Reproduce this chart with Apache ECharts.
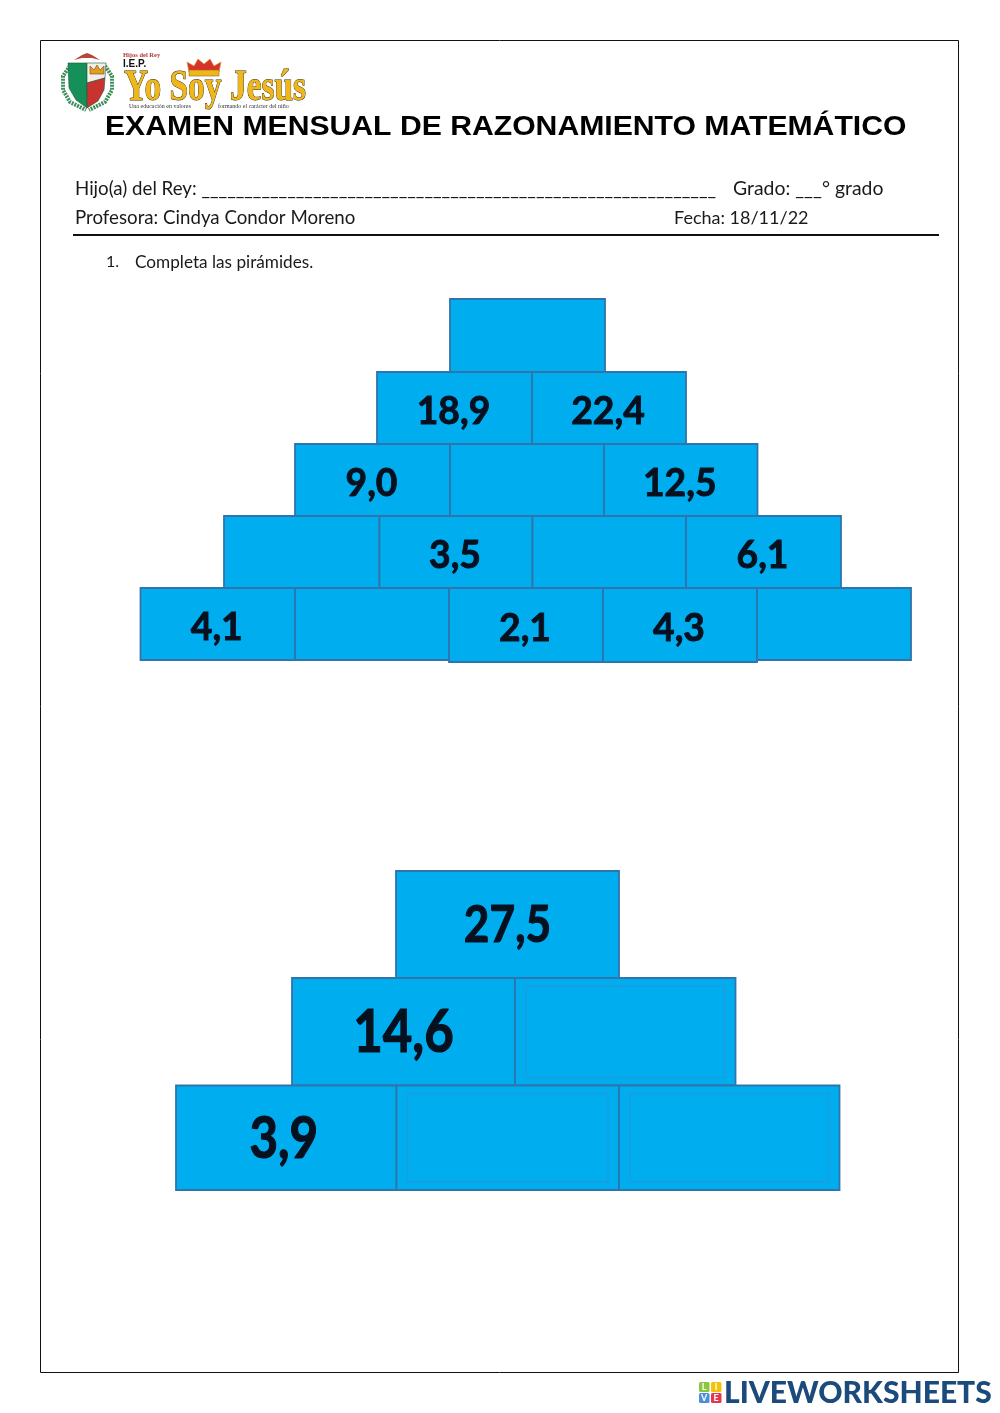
<!DOCTYPE html>
<html>
<head>
<meta charset="utf-8">
<title>Examen mensual</title>
<style>
html, body { margin: 0; padding: 0; background: #fff; }
#main { width: 1000px; height: 1413px; }
</style>
<script src="https://cdn.jsdelivr.net/npm/echarts@6/dist/echarts.min.js"></script>
</head>
<body>
<div id="main"></div>
<script>
// first pyramid, cells listed from the top row down
const pyramidOneLabels = ['', '18,9', '22,4', '9,0', '', '12,5', '', '3,5', '', '6,1', '4,1', '', '2,1', '4,3', ''];
const pyramidOneLeft = [450, 377, 532, 295, 450, 604, 224, 379.5, 532.5, 686, 140.5, 295, 449, 603, 757];
const pyramidOneRight = [605, 532, 686, 450, 604, 757.5, 379.5, 532.5, 686, 841, 295, 449, 603, 757, 911];
const pyramidOneTop = [299, 372, 372, 444, 444, 444, 516, 516, 516, 516, 588, 588, 588, 588, 588];
const pyramidOneBottom = [372, 444, 444, 516, 516, 516, 588, 588, 588, 588, 660, 660, 662, 662, 660];

// second pyramid
const pyramidTwoLabels = ['27,5', '14,6', '', '3,9', '', ''];
const pyramidTwoLeft = [396, 292, 515, 176, 396.5, 619];
const pyramidTwoRight = [619, 515, 735.5, 396.5, 619, 839.5];
const pyramidTwoTop = [871, 978, 978, 1085.5, 1085.5, 1085.5];
const pyramidTwoBottom = [978, 1085.5, 1085.5, 1190, 1190, 1190];

const CELL_FILL = '#00aeef';
const CELL_EDGE = '#2f74ad';
const BODY_FONT = 'Lato, "Open Sans", sans-serif';

function zipCells(labels, left, right, top, bottom) {
    return labels.map((label, i) => [left[i], right[i], top[i], bottom[i], label]);
}

function cellRenderer(labels, labelStyle, innerFrame) {
    return function (params, api) {
        let p0 = api.coord([api.value(0), api.value(2)]);
        let p1 = api.coord([api.value(1), api.value(3)]);
        let w = p1[0] - p0[0];
        let h = p1[1] - p0[1];
        let label = labels[params.dataIndex];
        let children = [{
            type: 'rect',
            shape: {x: p0[0], y: p0[1], width: w, height: h},
            style: {fill: CELL_FILL, stroke: CELL_EDGE, lineWidth: 1.8}
        }];
        if (label) {
            let s = labelStyle(label);
            children.push({
                type: 'text',
                x: p0[0] + w / 2 + s.dx,
                y: p0[1] + h / 2 + s.dy,
                scaleX: s.scaleX,
                style: {
                    text: label,
                    x: 0,
                    y: 0,
                    fill: '#07101f',
                    stroke: '#07101f',
                    lineWidth: s.weight,
                    font: 'bold ' + s.size + 'px ' + BODY_FONT,
                    textAlign: 'center',
                    textVerticalAlign: 'middle'
                }
            });
        } else if (innerFrame) {
            // faint inner frame left by the answer boxes
            children.push({
                type: 'rect',
                shape: {x: p0[0] + 11, y: p0[1] + 8, width: w - 22, height: h - 16},
                style: {fill: 'none', stroke: '#1f9ade', lineWidth: 1.3}
            });
        }
        return {type: 'group', children: children};
    };
}

function line(text, x, y, size, extra) {
    return {
        type: 'text',
        silent: true,
        z: 20,
        style: Object.assign({
            text: text,
            x: x,
            y: y,
            fill: '#1a1a1a',
            font: size + 'px ' + BODY_FONT,
            textVerticalAlign: 'middle'
        }, extra || {})
    };
}

function poly(points, fill, stroke) {
    return {
        type: 'polygon',
        silent: true,
        z: 15,
        shape: {points: points},
        style: {fill: fill, stroke: stroke || null, lineWidth: 0.6}
    };
}

// school logo, left of the heading
function logoElements() {
    let out = [
        // laurel
        {type: 'polyline', silent: true, z: 14, shape: {points: [[70, 66], [63, 76], [63, 90], [70, 102], [86, 110]]},
            style: {fill: 'none', stroke: '#3f8f5b', lineWidth: 4, lineDash: [2, 1]}},
        {type: 'polyline', silent: true, z: 14, shape: {points: [[105, 66], [112, 76], [112, 90], [105, 102], [89, 110]]},
            style: {fill: 'none', stroke: '#3f8f5b', lineWidth: 4, lineDash: [2, 1]}},
        poly([[74, 60], [82, 55], [87, 53], [92, 55], [100, 60], [92, 58], [82, 58]], '#b8453c'),
        poly([[68, 63], [87, 63], [87, 108], [76, 100], [69, 88]], '#15905a', '#1c5a3c'),
        poly([[87, 63], [106, 63], [105, 78], [87, 83]], '#f3efe6', '#1c5a3c'),
        poly([[87, 83], [105, 78], [104, 90], [98, 101], [87, 108]], '#c9332f', '#1c5a3c'),
        poly([[90, 74], [90, 66], [94, 70], [97, 65], [100, 70], [104, 66], [104, 74]], '#d9a21f', '#8d3b20'),
        // crown over "Soy"
        poly([[189, 72], [187, 62], [194, 66], [198, 59], [204, 64], [210, 59], [214, 66], [221, 62], [219, 72]], '#d8322c', '#d19b18'),
        poly([[189, 70], [219, 70], [219, 76], [189, 76]], '#efb71b', '#9b6a10'),
        line('Hijos del Rey', 123, 55.5, 6.5, {fill: '#b23b36', font: 'bold 6.5px "Liberation Serif", serif'}),
        line('I.E.P.', 123, 64, 10, {fill: '#111', font: 'bold 10px "Liberation Sans", sans-serif'}),
        line('Una educación en valores', 129, 106, 6, {fill: '#333', font: '6px "Liberation Serif", serif'}),
        line('formando el carácter del niño', 218, 106, 6, {fill: '#333', font: '6px "Liberation Serif", serif'})
    ];
    out.push({
        type: 'text',
        silent: true,
        z: 16,
        x: 124,
        y: 89,
        scaleX: 0.76,
        style: {
            text: 'Yo Soy Jesús',
            x: 0,
            y: 0,
            fill: '#efb71b',
            stroke: '#3a2a08',
            lineWidth: 1,
            font: 'bold 44px "Liberation Serif", serif',
            textVerticalAlign: 'middle'
        }
    });
    return out;
}

// liveworksheets footer mark
function footerElements() {
    let tiles = [
        ['L', 699, 1382, '#8cc63f'],
        ['I', 711, 1382, '#f4c20d'],
        ['V', 699, 1393, '#4a8fdb'],
        ['E', 711, 1393, '#e6354f']
    ];
    let out = tiles.map((t) => ({
        type: 'rect',
        silent: true,
        z: 15,
        shape: {x: t[1], y: t[2], width: 10.5, height: 10, r: 1.5},
        style: {fill: t[3]}
    }));
    tiles.forEach((t) => {
        out.push(line(t[0], t[1] + 5.2, t[2] + 5, 9, {fill: '#fff', font: 'bold 9px ' + BODY_FONT, textAlign: 'center'}));
    });
    out.push(line('LIVEWORKSHEETS', 724, 1393, 30, {fill: '#1b4a7c', font: '900 30px ' + BODY_FONT}));
    return out;
}

// the pasted pyramids were scaled by hand, so their digits differ in size
function pyramidOneLabelStyle() {
    return {size: 38, scaleX: 0.98, dx: -1, dy: 4, weight: 0.9};
}

function pyramidTwoLabelStyle(label) {
    if (label === '27,5') return {size: 52, scaleX: 0.85, dx: 0, dy: 1, weight: 1.1};
    if (label === '14,6') return {size: 60, scaleX: 0.85, dx: 0, dy: 1, weight: 1.2};
    return {size: 58, scaleX: 0.85, dx: -2.5, dy: 2, weight: 1.2};
}

let myChart = echarts.init(document.getElementById('main'));

myChart.setOption({
    animation: false,
    backgroundColor: '#fff',
    grid: {left: 0, right: 0, top: 0, bottom: 0},
    xAxis: {type: 'value', min: 0, max: 1000, show: false},
    yAxis: {type: 'value', min: 0, max: 1413, inverse: true, show: false},
    graphic: [
        {type: 'rect', silent: true, z: 1, shape: {x: 40.5, y: 40.5, width: 918, height: 1332},
            style: {fill: 'none', stroke: '#111', lineWidth: 1}},
        {type: 'line', silent: true, z: 1, shape: {x1: 73, y1: 235, x2: 939, y2: 235},
            style: {stroke: '#111', lineWidth: 2}},
        {
            type: 'text',
            silent: true,
            z: 20,
            x: 105,
            y: 128,
            scaleX: 1.117,
            style: {
                text: 'EXAMEN MENSUAL DE RAZONAMIENTO MATEMÁTICO',
                x: 0,
                y: 0,
                fill: '#000',
                font: 'bold 27px "Liberation Sans", Arial, sans-serif',
                textVerticalAlign: 'middle'
            }
        },
        line('Hijo(a) del Rey: ____________________________________________________________', 75, 189, 18.7),
        line('Grado: ___° grado', 733, 189, 19.4),
        line('Profesora: Cindya Condor Moreno', 75, 218, 18.7),
        line('Fecha: 18/11/22', 674, 218, 18),
        line('1.', 106, 262, 16),
        line('Completa las pirámides.', 135, 262, 17.2)
    ].concat(logoElements(), footerElements()),
    series: [
        {
            type: 'custom',
            silent: true,
            clip: false,
            data: zipCells(pyramidOneLabels, pyramidOneLeft, pyramidOneRight, pyramidOneTop, pyramidOneBottom),
            encode: {x: [0, 1], y: [2, 3]},
            renderItem: cellRenderer(pyramidOneLabels, pyramidOneLabelStyle, false)
        },
        {
            type: 'custom',
            silent: true,
            clip: false,
            data: zipCells(pyramidTwoLabels, pyramidTwoLeft, pyramidTwoRight, pyramidTwoTop, pyramidTwoBottom),
            encode: {x: [0, 1], y: [2, 3]},
            renderItem: cellRenderer(pyramidTwoLabels, pyramidTwoLabelStyle, true)
        }
    ]
});
</script>
</body>
</html>
